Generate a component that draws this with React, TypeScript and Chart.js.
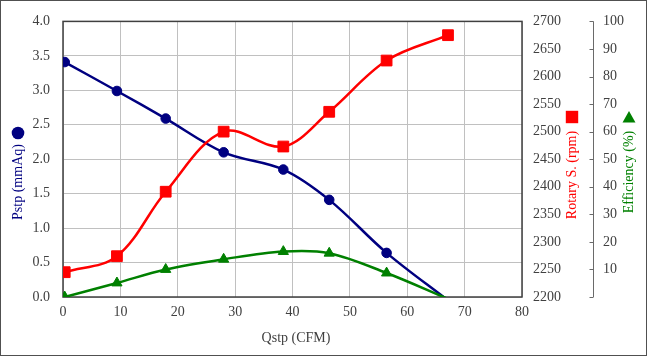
import React, { useEffect, useRef } from 'react';
import { Chart, registerables } from 'chart.js';

Chart.register(...registerables);

// Data
const qstp = [0.3, 9.4, 17.9, 28.0, 38.4, 46.4, 56.4, 67.1];
const pstp = [3.41, 2.99, 2.59, 2.1, 1.85, 1.41, 0.64, -0.05];
const rotary = [2245, 2274, 2391, 2500, 2473, 2536, 2629, 2675];
const efficiency = [0, 5.1, 10.0, 13.7, 16.5, 15.9, 8.7, -0.7];

const FONT = '"Liberation Serif", "Times New Roman", serif';
const NAVY = '#000080';
const RED = '#FF0000';
const GREEN = '#008000';
const TEXT = '#404040';

function vText(ctx: CanvasRenderingContext2D, text: string, x: number, y: number, color: string) {
  ctx.save();
  ctx.translate(x, y);
  ctx.rotate(-Math.PI / 2);
  ctx.fillStyle = color;
  ctx.font = `14px ${FONT}`;
  ctx.textAlign = 'center';
  ctx.textBaseline = 'middle';
  ctx.fillText(text, 0, 0);
  ctx.restore();
}

const decorPlugin = {
  id: 'decor',
  beforeDraw(chart: any) {
    const { ctx, width, height } = chart;
    ctx.save();
    ctx.fillStyle = '#ffffff';
    ctx.fillRect(0, 0, width, height);
    ctx.restore();
  },
  beforeDatasetsDraw(chart: any) {
    const { ctx, chartArea: a } = chart;
    ctx.save();
    ctx.strokeStyle = '#404040';
    ctx.lineWidth = 1.5;
    ctx.strokeRect(a.left, a.top, a.right - a.left, a.bottom - a.top);
    ctx.restore();
  },
  afterDraw(chart: any) {
    const { ctx, width, height, chartArea: a } = chart;
    ctx.save();
    // efficiency axis line with inner ticks
    const s = chart.scales.y2;
    const ax = s.left + 0.5;
    ctx.strokeStyle = '#6a6a6a';
    ctx.lineWidth = 1;
    ctx.beginPath();
    ctx.moveTo(ax, a.top);
    ctx.lineTo(ax, a.bottom);
    s.ticks.forEach((t: any) => {
      const y = Math.round(s.getPixelForValue(t.value)) + 0.5;
      ctx.moveTo(ax - 4, y);
      ctx.lineTo(ax, y);
    });
    ctx.stroke();

    // axis titles with series markers
    vText(ctx, 'Pstp (mmAq)', 18, 182, NAVY);
    ctx.fillStyle = NAVY;
    ctx.beginPath();
    ctx.arc(18, 133, 6.3, 0, Math.PI * 2);
    ctx.fill();

    vText(ctx, 'Rotary S. (rpm)', 572, 175, RED);
    ctx.fillStyle = RED;
    ctx.fillRect(572 - 6.2, 117 - 6.2, 12.4, 12.4);

    vText(ctx, 'Efficiency (%)', 629, 172, GREEN);
    ctx.fillStyle = GREEN;
    ctx.beginPath();
    ctx.moveTo(629, 111);
    ctx.lineTo(635.5, 122.5);
    ctx.lineTo(622.5, 122.5);
    ctx.closePath();
    ctx.fill();

    ctx.fillStyle = TEXT;
    ctx.font = `14px ${FONT}`;
    ctx.textAlign = 'center';
    ctx.textBaseline = 'middle';
    ctx.fillText('Qstp (CFM)', 296, 338);

    // outer frame
    ctx.strokeStyle = '#505050';
    ctx.lineWidth = 1;
    ctx.strokeRect(0.5, 0.5, width - 1, height - 1);
    ctx.restore();
  },
};

export default function App() {
  const ref = useRef<HTMLCanvasElement | null>(null);

  useEffect(() => {
    if (!ref.current) return;
    const font = { family: FONT, size: 14 };
    const lastHidden = (r: number) => qstp.map((_, i) => (i === qstp.length - 1 ? 0 : r));
    const chart = new Chart(ref.current, {
      type: 'line',
      data: {
        datasets: [
          {
            label: 'Pstp',
            data: qstp.map((x, i) => ({ x, y: pstp[i] })),
            yAxisID: 'y',
            borderColor: NAVY,
            backgroundColor: NAVY,
            borderWidth: 2.5,
            pointStyle: 'circle',
            pointRadius: lastHidden(4.8),
            pointBorderWidth: 1,
            tension: 0.35,
            order: 3,
          },
          {
            label: 'Rotary S.',
            data: qstp.map((x, i) => ({ x, y: rotary[i] })),
            yAxisID: 'y1',
            borderColor: RED,
            backgroundColor: RED,
            borderWidth: 2.5,
            pointStyle: 'rect',
            pointRadius: 7.6,
            pointBorderWidth: 1,
            tension: 0.35,
            order: 2,
          },
          {
            label: 'Efficiency',
            data: qstp.map((x, i) => ({ x, y: efficiency[i] })),
            yAxisID: 'y2',
            borderColor: GREEN,
            backgroundColor: GREEN,
            borderWidth: 2.5,
            pointStyle: 'triangle',
            pointRadius: lastHidden(5.9),
            pointBorderWidth: 1,
            tension: 0.35,
            order: 1,
          },
        ],
      },
      options: {
        animation: false,
        responsive: false,
        maintainAspectRatio: false,
        layout: { padding: { top: 19, left: 0, right: 0, bottom: 0 } },
        plugins: { legend: { display: false }, tooltip: { enabled: false } },
        scales: {
          x: {
            type: 'linear',
            min: 0,
            max: 80,
            afterFit: (s: any) => { s.height = 59; },
            ticks: { stepSize: 10, padding: 7, color: TEXT, font },
            grid: { color: '#c0c0c0', lineWidth: 1, drawTicks: false },
            border: { display: false },
          },
          y: {
            type: 'linear',
            position: 'left',
            min: 0,
            max: 4,
            afterFit: (s: any) => { s.width = 63; },
            ticks: { stepSize: 0.5, padding: 13, color: TEXT, font, callback: (v: any) => Number(v).toFixed(1) },
            grid: { color: '#c0c0c0', lineWidth: 1, drawTicks: false },
            border: { display: false },
          },
          y1: {
            type: 'linear',
            position: 'right',
            min: 2200,
            max: 2700,
            afterFit: (s: any) => { s.width = 71; },
            ticks: { stepSize: 50, padding: 11, color: TEXT, font, callback: (v: any) => String(v) },
            grid: { drawOnChartArea: false, drawTicks: false },
            border: { display: false },
          },
          y2: {
            type: 'linear',
            position: 'right',
            min: 0,
            max: 100,
            afterFit: (s: any) => { s.width = 54; },
            ticks: { stepSize: 10, padding: 10, color: TEXT, font, callback: (v: any) => (Number(v) === 0 ? '' : String(v)) },
            grid: { display: false, drawTicks: false },
            border: { display: false },
          },
        },
      } as any,
      plugins: [decorPlugin],
    });
    return () => chart.destroy();
  }, []);

  return (
    <div style={{ position: 'fixed', left: 0, top: 0, width: 647, height: 356, background: '#fff' }}>
      <canvas ref={ref} width={647} height={356} style={{ width: 647, height: 356, display: 'block' }} />
    </div>
  );
}
